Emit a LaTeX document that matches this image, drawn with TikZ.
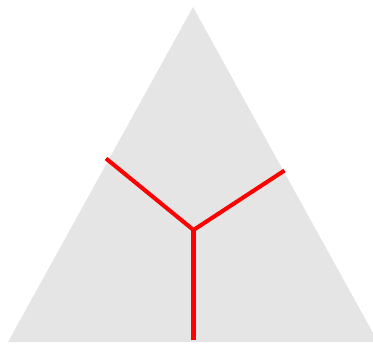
\documentclass[tikz,border=0pt]{standalone}
\usepackage{tikz}

\begin{document}
\begin{tikzpicture}[x=0.02cm, y=-0.02cm]
    \useasboundingbox (0,0) rectangle (373,345);
    % The grey triangle
    \fill[black!10] (8,342) -- (193,7) -- (378,342) -- cycle;

    \coordinate (C) at (193.5,230);
    \coordinate (L) at (106,158.5);
    \coordinate (R) at (284.5,170.5);
    \coordinate (B) at (193.5,340);

    % The red junction
    \draw[red, line width=2.3pt] (L) -- (C) -- (R);
    \draw[red, line width=2.3pt] (C) -- (B);
\end{tikzpicture}
\end{document}
